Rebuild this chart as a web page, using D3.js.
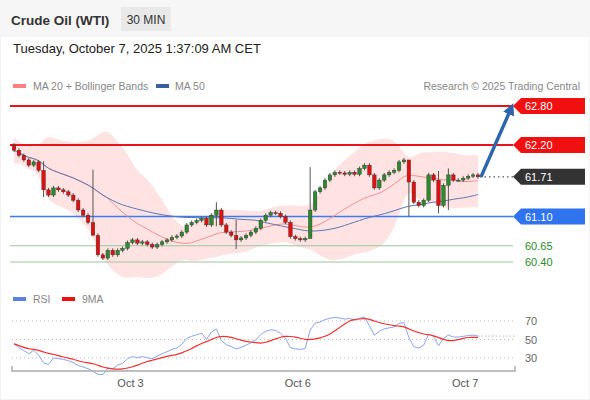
<!DOCTYPE html>
<html>
<head>
<meta charset="utf-8">
<script src="https://cdn.jsdelivr.net/npm/d3@7"></script>
<style>
  body { margin: 0; background: #fff; font-family: "Liberation Sans", Arial, sans-serif; }
</style>
</head>
<body>
<svg id="chart" width="590" height="400"></svg>
<script>
// closes, one per 30 min candle
var closes = [62.12, 62.04, 61.97, 61.89, 61.94, 61.81, 61.51, 61.43, 61.54, 61.51,
  61.48, 61.43, 61.35, 61.20, 61.12, 61.01, 60.81, 60.51, 60.46, 60.58,
  60.51, 60.58, 60.61, 60.70, 60.74, 60.69, 60.71, 60.67, 60.63, 60.67,
  60.71, 60.74, 60.78, 60.80, 60.86, 60.97, 61.01, 61.04, 61.07, 60.97,
  61.12, 61.20, 60.97, 60.86, 60.81, 60.74, 60.77, 60.81, 60.86, 60.92,
  61.04, 61.12, 61.16, 61.15, 61.10, 61.01, 60.79, 60.76, 60.74, 60.76,
  61.20, 61.48, 61.54, 61.66, 61.74, 61.78, 61.77, 61.75, 61.78, 61.75,
  61.84, 61.89, 61.74, 61.54, 61.66, 61.74, 61.78, 61.81, 61.94, 61.97,
  61.63, 61.32, 61.27, 61.35, 61.74, 61.66, 61.27, 61.58, 61.74, 61.66,
  61.66, 61.69, 61.72, 61.74, 61.71];
var firstOpen = 62.20;
// a few candles with long wicks: [index, high, low]
var longWicks = [[6, 61.95, 61.40], [16, 61.82, 60.85], [41, 61.32, 60.95], [60, 61.86, 61.10],
  [80, 61.90, 61.10], [86, 61.80, 61.15], [88, 61.84, 61.20], [45, 61.05, 60.60]];

var levels = [
  { v: 62.80, kind: 'res', label: '62.80' },
  { v: 62.20, kind: 'res', label: '62.20' },
  { v: 61.10, kind: 'sup', label: '61.10' },
  { v: 60.65, kind: 'minor', label: '60.65' },
  { v: 60.40, kind: 'minor', label: '60.40' }
];
var lastLabel = '61.71';
var dayTicks = [{ i: 23.6, label: 'Oct 3' }, { i: 57.5, label: 'Oct 6' }, { i: 91.4, label: 'Oct 7' }];
var rsiTicks = [70, 50, 30];

var svg = d3.select('#chart');
var N = closes.length;

// build candles
var candles = closes.map(function(c, i) {
  var o = i === 0 ? firstOpen : closes[i - 1];
  return { i: i, o: o, c: c, h: Math.max(o, c) + 0.03, l: Math.min(o, c) - 0.03 };
});
longWicks.forEach(function(w) { candles[w[0]].h = w[1]; candles[w[0]].l = w[2]; });

function sma(arr, n, i) {
  var s = arr.slice(Math.max(0, i - n + 1), i + 1);
  return d3.mean(s);
}
var bands = closes.map(function(c, i) {
  var s = closes.slice(Math.max(0, i - 19), i + 1);
  var m = d3.mean(s), sd = s.length > 1 ? d3.deviation(s) : 0.1;
  sd = Math.max(sd, 0.08);
  return { i: i, m: m, up: m + 2 * sd, lo: m - 2 * sd, m50: sma(closes, 50, i) };
});

// RSI(14), Wilder
var rsi = [], ag = 0.03, al = 0.03;
closes.forEach(function(c, i) {
  var prev = i === 0 ? firstOpen : closes[i - 1], d = c - prev;
  ag = (ag * 13 + Math.max(d, 0)) / 14;
  al = (al * 13 + Math.max(-d, 0)) / 14;
  rsi.push(100 - 100 / (1 + ag / al));
});
var rsiMa = rsi.map(function(r, i) { return sma(rsi, 9, i); });

// header
svg.append('rect').attr('width', 590).attr('height', 400).attr('fill', '#fff').attr('stroke', '#e6e6e6');
svg.append('rect').attr('width', 590).attr('height', 37).attr('fill', '#f6f6f6');
svg.append('text').attr('x', 11).attr('y', 25).attr('font-size', 13.5).attr('font-weight', 'bold')
  .attr('fill', '#333').text('Crude Oil (WTI)');
svg.append('rect').attr('x', 121).attr('y', 7).attr('width', 50).attr('height', 24).attr('fill', '#e9e9e9');
svg.append('text').attr('x', 146).attr('y', 24).attr('text-anchor', 'middle').attr('font-size', 12)
  .attr('fill', '#333').text('30 MIN');
svg.append('text').attr('x', 13).attr('y', 53).attr('font-size', 13).attr('fill', '#222')
  .text('Tuesday, October 7, 2025 1:37:09 AM CET');

var leg = svg.append('g').attr('font-size', 10.5).attr('fill', '#888');
leg.append('rect').attr('x', 13).attr('y', 84).attr('width', 13).attr('height', 4).attr('fill', '#ff8080');
leg.append('text').attr('x', 33).attr('y', 90).text('MA 20 + Bollinger Bands');
leg.append('rect').attr('x', 156).attr('y', 84).attr('width', 13).attr('height', 4).attr('fill', '#3a5fa0');
leg.append('text').attr('x', 175).attr('y', 90).text('MA 50');
leg.append('text').attr('x', 580).attr('y', 90).attr('text-anchor', 'end').text('Research © 2025 Trading Central');

// scales
var x = d3.scaleLinear().domain([0, N - 1]).range([14, 478]);
var y = d3.scaleLinear().domain([62.20, 60.40]).range([145, 262]);

// bollinger band
svg.append('path').datum(bands)
  .attr('d', d3.area().x(function(d) { return x(d.i); }).y0(function(d) { return y(d.lo); })
    .y1(function(d) { return y(d.up); }).curve(d3.curveBasis))
  .attr('fill', '#ffe3e3');

// level lines
var levelColor = { res: '#e8141a', sup: '#3b7cf0', minor: '#9cc79c' };
levels.forEach(function(l) {
  svg.append('line').attr('x1', 10).attr('x2', 513).attr('y1', y(l.v)).attr('y2', y(l.v))
    .attr('stroke', levelColor[l.kind]).attr('stroke-width', l.kind === 'minor' ? 1 : (l.kind === 'res' ? 2 : 1.5));
});

// MAs
svg.append('path').datum(bands)
  .attr('d', d3.line().x(function(d) { return x(d.i); }).y(function(d) { return y(d.m); }).curve(d3.curveBasis))
  .attr('fill', 'none').attr('stroke', '#f59090').attr('stroke-width', 1);
svg.append('path').datum(bands)
  .attr('d', d3.line().x(function(d) { return x(d.i); }).y(function(d) { return y(d.m50); }).curve(d3.curveBasis))
  .attr('fill', 'none').attr('stroke', '#5b78b5').attr('stroke-width', 1);

// candles
var cg = svg.append('g').selectAll('g').data(candles).enter().append('g');
cg.append('line')
  .attr('x1', function(d) { return x(d.i); }).attr('x2', function(d) { return x(d.i); })
  .attr('y1', function(d) { return y(d.h); }).attr('y2', function(d) { return y(d.l); })
  .attr('stroke', '#555').attr('stroke-width', 1);
cg.append('rect')
  .attr('x', function(d) { return x(d.i) - 1.8; }).attr('width', 3.6)
  .attr('y', function(d) { return y(Math.max(d.o, d.c)); })
  .attr('height', function(d) { return Math.max(1, Math.abs(y(d.o) - y(d.c))); })
  .attr('fill', function(d) { return d.c >= d.o ? '#2b8a2b' : '#e01010'; })
  .attr('stroke', '#333').attr('stroke-width', 0.4);

// last price dotted line
var last = closes[N - 1];
svg.append('line').attr('x1', x(N - 1) + 2).attr('x2', 513).attr('y1', y(last)).attr('y2', y(last))
  .attr('stroke', '#555').attr('stroke-dasharray', '1.5,3').attr('stroke-width', 1.2);

// forecast arrow
svg.append('defs').append('marker').attr('id', 'ah').attr('viewBox', '0 0 10 10')
  .attr('refX', 5).attr('refY', 5).attr('markerWidth', 3.4).attr('markerHeight', 3.4).attr('orient', 'auto')
  .append('path').attr('d', 'M0,0L10,5L0,10z').attr('fill', '#2e64ae');
svg.append('line').attr('x1', x(N - 1) + 3).attr('y1', y(last)).attr('x2', 511).attr('y2', y(62.76))
  .attr('stroke', '#2e64ae').attr('stroke-width', 3.5).attr('marker-end', 'url(#ah)');

// tags
function tag(v, fill, text, txtColor) {
  var yy = y(v);
  if (fill) {
    svg.append('path').attr('d', 'M513,' + yy + 'L521,' + (yy - 8) + 'L585,' + (yy - 8) + 'L585,' + (yy + 8) + 'L521,' + (yy + 8) + 'Z')
      .attr('fill', fill);
  }
  svg.append('text').attr('x', 525).attr('y', yy + 4).attr('font-size', 11).attr('fill', txtColor).text(text);
}
levels.forEach(function(l) {
  if (l.kind === 'res') tag(l.v, '#f01010', l.label, '#fff');
  else if (l.kind === 'sup') tag(l.v, '#2f74ee', l.label, '#fff');
  else tag(l.v, null, l.label, '#2a8a2a');
});
tag(last, '#333', lastLabel, '#fff');

// RSI panel
var ry = d3.scaleLinear().domain([70, 30]).range([321, 358]);
var rl = svg.append('g').attr('font-size', 10.5).attr('fill', '#888');
rl.append('rect').attr('x', 13).attr('y', 297).attr('width', 13).attr('height', 4).attr('fill', '#5b82e0');
rl.append('text').attr('x', 33).attr('y', 303).text('RSI');
rl.append('rect').attr('x', 62).attr('y', 297).attr('width', 13).attr('height', 4).attr('fill', '#f01010');
rl.append('text').attr('x', 82).attr('y', 303).text('9MA');

rsiTicks.forEach(function(t) {
  svg.append('line').attr('x1', 12).attr('x2', 515).attr('y1', ry(t)).attr('y2', ry(t))
    .attr('stroke', '#bbb').attr('stroke-dasharray', '1,3');
  svg.append('text').attr('x', 525).attr('y', ry(t) + 4).attr('font-size', 11).attr('fill', '#666').text(t);
});
svg.append('path').datum(rsi)
  .attr('d', d3.line().x(function(d, i) { return x(i); }).y(function(d) { return ry(d); }))
  .attr('fill', 'none').attr('stroke', '#8aa5f0').attr('stroke-width', 1);
svg.append('path').datum(rsiMa)
  .attr('d', d3.line().x(function(d, i) { return x(i); }).y(function(d) { return ry(d); }).curve(d3.curveBasis))
  .attr('fill', 'none').attr('stroke', '#f03030').attr('stroke-width', 1.2);
svg.append('line').attr('x1', x(N - 1)).attr('x2', 515).attr('y1', ry(rsi[N - 1])).attr('y2', ry(rsi[N - 1]))
  .attr('stroke', '#aabbee').attr('stroke-dasharray', '1.5,2');

// time axis
svg.append('path').attr('d', 'M12,366V371H515V366').attr('fill', 'none').attr('stroke', '#aaa').attr('stroke-width', 1.5);
dayTicks.forEach(function(t) {
  svg.append('text').attr('x', x(t.i)).attr('y', 387).attr('text-anchor', 'middle')
    .attr('font-size', 11).attr('fill', '#555').text(t.label);
});
</script>
</body>
</html>
